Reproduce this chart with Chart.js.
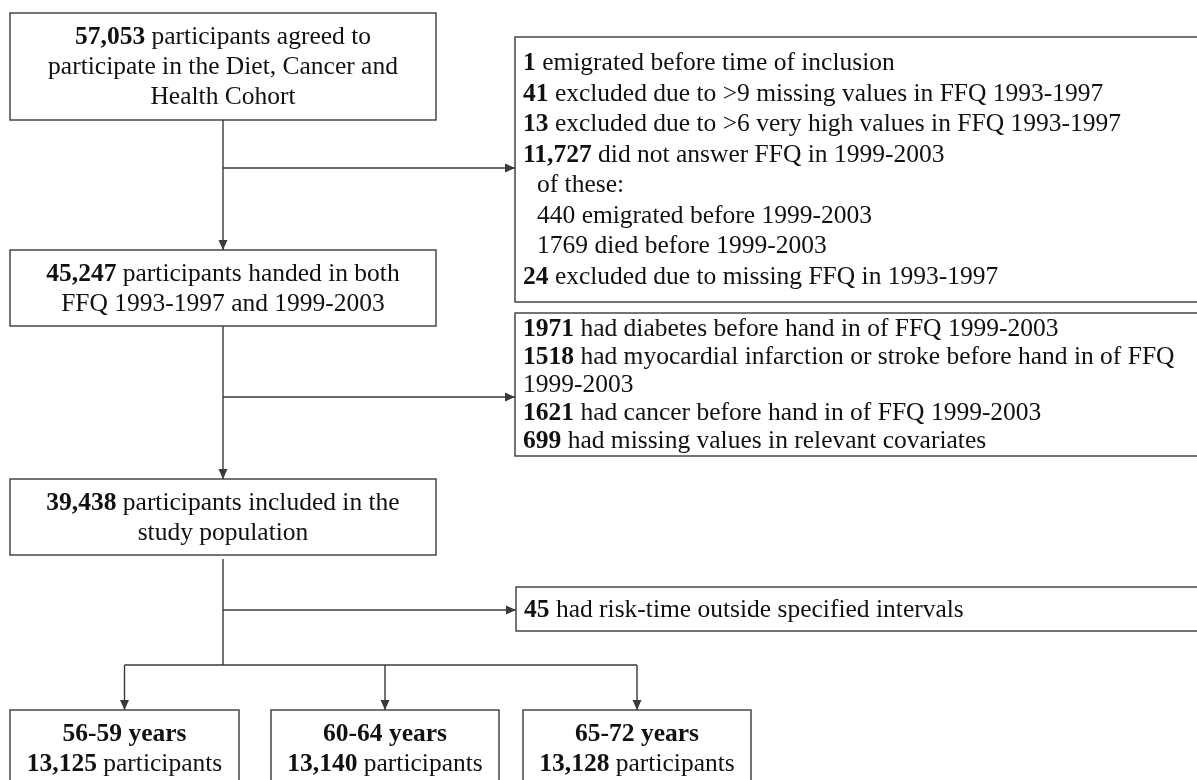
<!DOCTYPE html>
<html>
<head>
<meta charset="utf-8">
<script src="https://cdn.jsdelivr.net/npm/chart.js@4.4.1/dist/chart.umd.min.js"></script>
<style>
html,body{margin:0;padding:0;background:#fff}
#wrap{width:1197px;height:780px}
</style>
</head>
<body>
<div id="wrap"><canvas id="flow" width="1197" height="780"></canvas></div>
<script>
// counts and texts of the flow
const mainCounts = [57053, 45247, 39438]
const mainTexts = [
  ["participants agreed to", "participate in the Diet, Cancer and", "Health Cohort"],
  ["participants handed in both", "FFQ 1993-1997 and 1999-2003"],
  ["participants included in the", "study population"]
]

const excl1Counts = [1, 41, 13, 11727]
const excl1Texts = [
  "emigrated before time of inclusion",
  "excluded due to >9 missing values in FFQ 1993-1997",
  "excluded due to >6 very high values in FFQ 1993-1997",
  "did not answer FFQ in 1999-2003"
]
const subHeader = "of these:"
const subCounts = [440, 1769]
const subTexts = ["emigrated before 1999-2003", "died before 1999-2003"]
const excl1LastCount = 24
const excl1LastText = "excluded due to missing FFQ in 1993-1997"

const excl2Counts = [1971, 1518, 1621, 699]
const excl2Texts = [
  "had diabetes before hand in of FFQ 1999-2003",
  "had myocardial infarction or stroke before hand in of FFQ\n1999-2003",
  "had cancer before hand in of FFQ 1999-2003",
  "had missing values in relevant covariates"
]

const excl3Counts = [45]
const excl3Texts = ["had risk-time outside specified intervals"]

const groupLabels = ["56-59 years", "60-64 years", "65-72 years"]
const groupCounts = [13125, 13140, 13128]

// layout (chart units, y grows downward)
const mainBoxes = [
  {x0:10, x1:436, y0:13, y1:120},
  {x0:10, x1:436, y0:250, y1:326},
  {x0:10, x1:436, y0:479, y1:555}
]
const exclBoxes = [
  {x0:515, x1:1210, y0:37, y1:302},
  {x0:515, x1:1210, y0:313, y1:456},
  {x0:516, x1:1210, y0:587, y1:631}
]
const groupBoxes = [
  {x0:10, x1:239, y0:710, y1:800},
  {x0:271, x1:499, y0:710, y1:800},
  {x0:523, x1:751, y0:710, y1:800}
]
const branchY = [168, 397, 610]
const splitY = 665

const FONT = "25.5px 'Liberation Serif', 'Times New Roman', serif"
const BOLD = "bold " + FONT
const LINE = "#3a3a3a"

function fmt(n){
  return n >= 10000 ? n.toLocaleString("en-US") : String(n)
}

// build line lists: each line is a list of segments
function countLines(count, text){
  let parts = text.split("\n")
  let out = [{segs:[{t:fmt(count), b:true}, {t:" " + parts[0], b:false}], indent:0}]
  for(let i = 1; i < parts.length; i++) out.push({segs:[{t:parts[i], b:false}], indent:0})
  return out
}

const mainLines = mainCounts.map((c, i) => {
  let l = [{segs:[{t:fmt(c), b:true}, {t:" " + mainTexts[i][0], b:false}]}]
  for(let k = 1; k < mainTexts[i].length; k++) l.push({segs:[{t:mainTexts[i][k], b:false}]})
  return l
})

let excl1Lines = []
excl1Counts.forEach((c, i) => { excl1Lines = excl1Lines.concat(countLines(c, excl1Texts[i])) })
excl1Lines.push({segs:[{t:subHeader, b:false}], indent:1})
subCounts.forEach((c, i) => excl1Lines.push({segs:[{t:fmt(c) + " " + subTexts[i], b:false}], indent:1}))
excl1Lines = excl1Lines.concat(countLines(excl1LastCount, excl1LastText))

let excl2Lines = []
excl2Counts.forEach((c, i) => { excl2Lines = excl2Lines.concat(countLines(c, excl2Texts[i])) })
let excl3Lines = []
excl3Counts.forEach((c, i) => { excl3Lines = excl3Lines.concat(countLines(c, excl3Texts[i])) })
const exclLines = [excl1Lines, excl2Lines, excl3Lines]

const groupLines = groupLabels.map((g, i) => [
  {segs:[{t:g, b:true}]},
  {segs:[{t:fmt(groupCounts[i]), b:true}, {t:" participants", b:false}]}
])

// connectors, built from the box layout
const trunkX = (mainBoxes[0].x0 + mainBoxes[0].x1) / 2
const connectors = [
  {pts:[[trunkX, mainBoxes[0].y1], [trunkX, mainBoxes[1].y0]], arrow:true},
  {pts:[[trunkX, branchY[0]], [exclBoxes[0].x0, branchY[0]]], arrow:true},
  {pts:[[trunkX, mainBoxes[1].y1], [trunkX, mainBoxes[2].y0]], arrow:true},
  {pts:[[trunkX, branchY[1]], [exclBoxes[1].x0, branchY[1]]], arrow:true},
  {pts:[[trunkX, mainBoxes[2].y1 + 4], [trunkX, splitY]], arrow:false},
  {pts:[[trunkX, branchY[2]], [exclBoxes[2].x0, branchY[2]]], arrow:true},
  {pts:[[(groupBoxes[0].x0 + groupBoxes[0].x1) / 2, splitY], [(groupBoxes[2].x0 + groupBoxes[2].x1) / 2, splitY]], arrow:false}
]
groupBoxes.forEach(b => {
  let cx = (b.x0 + b.x1) / 2
  connectors.push({pts:[[cx, splitY], [cx, b.y0]], arrow:true})
})

const flowPlugin = {
  id: "flow",
  afterDatasetsDraw(chart){
    const ctx = chart.ctx
    const xs = chart.scales.x
    const ys = chart.scales.y
    const px = v => xs.getPixelForValue(v)
    const py = v => ys.getPixelForValue(v)

    ctx.save()
    // arrow heads
    ctx.fillStyle = LINE
    connectors.forEach(c => {
      if(!c.arrow) return
      let a = c.pts[c.pts.length - 2], b = c.pts[c.pts.length - 1]
      let x1 = px(a[0]), y1 = py(a[1]), x2 = px(b[0]), y2 = py(b[1])
      let ang = Math.atan2(y2 - y1, x2 - x1)
      ctx.beginPath()
      ctx.moveTo(x2, y2)
      ctx.lineTo(x2 - 10 * Math.cos(ang) + 4.5 * Math.sin(ang), y2 - 10 * Math.sin(ang) - 4.5 * Math.cos(ang))
      ctx.lineTo(x2 - 10 * Math.cos(ang) - 4.5 * Math.sin(ang), y2 - 10 * Math.sin(ang) + 4.5 * Math.cos(ang))
      ctx.closePath()
      ctx.fill()
    })

    // boxes
    ctx.strokeStyle = LINE
    ctx.lineWidth = 1.4
    const all = mainBoxes.concat(exclBoxes, groupBoxes)
    all.forEach(b => {
      ctx.fillStyle = "#fff"
      ctx.fillRect(px(b.x0), py(b.y0), px(b.x1) - px(b.x0), py(b.y1) - py(b.y0))
      ctx.strokeRect(px(b.x0), py(b.y0), px(b.x1) - px(b.x0), py(b.y1) - py(b.y0))
    })

    // text
    ctx.fillStyle = "#111"
    ctx.textBaseline = "middle"
    ctx.textAlign = "left"

    function segWidth(segs){
      let w = 0
      segs.forEach(s => { ctx.font = s.b ? BOLD : FONT; w += ctx.measureText(s.t).width })
      return w
    }
    function drawSegs(segs, x, y){
      segs.forEach(s => {
        ctx.font = s.b ? BOLD : FONT
        ctx.fillText(s.t, x, y)
        x += ctx.measureText(s.t).width
      })
    }

    const lh = 30
    mainBoxes.forEach((b, i) => {
      let lines = mainLines[i]
      let cy = (b.y0 + b.y1) / 2
      lines.forEach((l, k) => {
        let y = cy + (k - (lines.length - 1) / 2) * lh
        let cx = (b.x0 + b.x1) / 2
        drawSegs(l.segs, px(cx) - segWidth(l.segs) / 2, py(y) + 1)
      })
    })

    const exclLh = [30.5, 28, 30]
    exclBoxes.forEach((b, i) => {
      let lines = exclLines[i]
      let cy = (b.y0 + b.y1) / 2
      lines.forEach((l, k) => {
        let y = cy + (k - (lines.length - 1) / 2) * exclLh[i]
        let x = b.x0 + 8 + (l.indent ? 14 : 0)
        drawSegs(l.segs, px(x), py(y) + 1)
      })
    })

    groupBoxes.forEach((b, i) => {
      let lines = groupLines[i]
      lines.forEach((l, k) => {
        let y = b.y0 + 23 + k * lh
        let cx = (b.x0 + b.x1) / 2
        drawSegs(l.segs, px(cx) - segWidth(l.segs) / 2, py(y) + 1)
      })
    })
    ctx.restore()
  }
}

const ctx = document.getElementById("flow")

const chart = new Chart(ctx, {
  type: "scatter",
  data: {
    datasets: connectors.map((c, i) => ({
      label: "link " + i,
      data: c.pts.map(p => ({x:p[0], y:p[1]})),
      showLine: true,
      borderColor: LINE,
      borderWidth: 1.4,
      pointRadius: 0,
      fill: false,
      tension: 0
    }))
  },
  options: {
    responsive: false,
    animation: false,
    devicePixelRatio: 1,
    layout: {padding: 0},
    clip: false,
    plugins: {
      legend: {display: false},
      tooltip: {enabled: false}
    },
    scales: {
      x: {type: "linear", min: 0, max: 1197, display: false},
      y: {type: "linear", min: 0, max: 780, reverse: true, display: false}
    }
  },
  plugins: [flowPlugin]
})
</script>
</body>
</html>
